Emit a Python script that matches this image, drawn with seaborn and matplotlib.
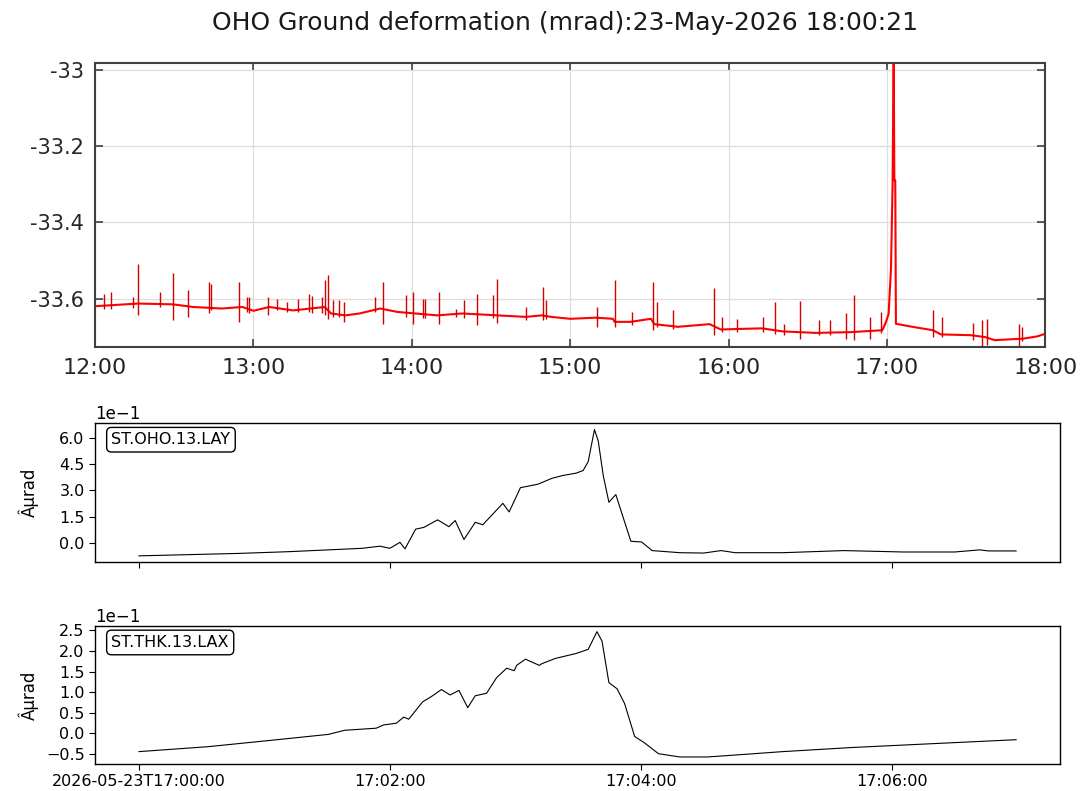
import numpy as np
import pandas as pd
import matplotlib
matplotlib.use("Agg")
import matplotlib.pyplot as plt
import seaborn as sns

# --- top panel: OHO tilt, hours after 12:00 ---
base_hours = [0.0, 0.27, 0.49, 0.62, 0.80, 0.93, 1.0, 1.10, 1.25, 1.36, 1.45, 1.49,
              1.58, 1.67, 1.80, 1.91, 2.02, 2.16, 2.32, 2.54, 2.72, 2.82, 2.88, 3.0,
              3.16, 3.27, 3.28, 3.38, 3.51, 3.53, 3.68, 3.88, 3.95, 4.21, 4.34, 4.55,
              4.77, 4.97, 4.99, 5.01, 5.025, 5.035, 5.042, 5.046, 5.052, 5.056, 5.16,
              5.29, 5.34, 5.53, 5.62, 5.68, 5.86, 5.95, 6.0]
base_mrad = [-33.620, -33.613, -33.615, -33.622, -33.626, -33.622, -33.632, -33.622,
             -33.631, -33.626, -33.622, -33.639, -33.644, -33.639, -33.626, -33.635,
             -33.639, -33.644, -33.639, -33.644, -33.648, -33.644, -33.648, -33.653,
             -33.650, -33.653, -33.661, -33.661, -33.653, -33.667, -33.674, -33.667,
             -33.681, -33.678, -33.686, -33.690, -33.688, -33.683, -33.665, -33.640,
             -33.520, -33.300, -32.950, -33.290, -33.290, -33.666, -33.674, -33.683,
             -33.694, -33.696, -33.701, -33.709, -33.705, -33.699, -33.692]

spike_hours = [0.055, 0.10, 0.24, 0.27, 0.41, 0.49, 0.59, 0.72, 0.73, 0.91, 0.96, 0.97,
               1.09, 1.15, 1.21, 1.28, 1.35, 1.37, 1.43, 1.45, 1.47, 1.50, 1.54, 1.57,
               1.77, 1.82, 1.96, 2.01, 2.07, 2.08, 2.17, 2.28, 2.33, 2.41, 2.51, 2.54,
               2.72, 2.83, 2.85, 3.17, 3.28, 3.39, 3.52, 3.55, 3.65, 3.91, 3.96, 4.05,
               4.22, 4.29, 4.35, 4.45, 4.57, 4.64, 4.74, 4.79, 4.89, 4.96, 5.29, 5.35,
               5.54, 5.60, 5.63, 5.83, 5.85, 5.995]
spike_top = [-33.587, -33.582, -33.596, -33.510, -33.582, -33.533, -33.578, -33.556,
             -33.561, -33.556, -33.596, -33.596, -33.596, -33.600, -33.609, -33.600,
             -33.587, -33.594, -33.596, -33.552, -33.539, -33.604, -33.604, -33.609,
             -33.597, -33.556, -33.591, -33.582, -33.600, -33.600, -33.582, -33.626,
             -33.604, -33.587, -33.591, -33.548, -33.622, -33.569, -33.604, -33.622,
             -33.552, -33.635, -33.556, -33.609, -33.629, -33.571, -33.648, -33.653,
             -33.648, -33.609, -33.666, -33.606, -33.657, -33.655, -33.639, -33.591,
             -33.648, -33.635, -33.631, -33.648, -33.664, -33.655, -33.653, -33.667,
             -33.674, -33.604]
spike_bottom = [-33.628, -33.628, -33.625, -33.644, -33.622, -33.655, -33.648, -33.639,
                -33.630, -33.661, -33.635, -33.639, -33.644, -33.631, -33.635, -33.635,
                -33.635, -33.639, -33.639, -33.644, -33.653, -33.648, -33.648, -33.661,
                -33.635, -33.666, -33.648, -33.667, -33.650, -33.650, -33.667, -33.648,
                -33.650, -33.670, -33.650, -33.664, -33.655, -33.655, -33.653, -33.674,
                -33.674, -33.668, -33.683, -33.675, -33.680, -33.696, -33.688, -33.688,
                -33.688, -33.692, -33.695, -33.705, -33.696, -33.696, -33.705, -33.709,
                -33.705, -33.690, -33.701, -33.700, -33.709, -33.731, -33.723, -33.731,
                -33.712, -33.692]

top_ticks = [-33.0, -33.2, -33.4, -33.6]
top_tick_labels = ["-33", "-33.2", "-33.4", "-33.6"]
hour_labels = ["12:00", "13:00", "14:00", "15:00", "16:00", "17:00", "18:00"]

# --- lower panels: minutes after 2026-05-23T17:00:00 ---
lay_min = [0.0, 0.8, 1.2, 1.507, 1.78, 1.92, 2.0, 2.08, 2.12, 2.205, 2.27, 2.38, 2.47,
           2.52, 2.59, 2.68, 2.74, 2.90, 2.95, 3.04, 3.18, 3.21, 3.29, 3.375, 3.485,
           3.54, 3.58, 3.63, 3.66, 3.70, 3.745, 3.80, 3.84, 3.92, 4.005, 4.09, 4.31,
           4.50, 4.64, 4.75, 5.13, 5.62, 6.09, 6.50, 6.70, 6.77, 6.99]
lay_val = [-0.73, -0.59, -0.49, -0.39, -0.30, -0.18, -0.30, 0.04, -0.33, 0.79, 0.89,
           1.32, 0.93, 1.28, 0.20, 1.18, 1.04, 2.26, 1.77, 3.15, 3.35, 3.44, 3.68, 3.84,
           3.98, 4.13, 4.63, 6.46, 5.81, 3.84, 2.32, 2.76, 1.87, 0.10, 0.06, -0.43,
           -0.55, -0.57, -0.43, -0.55, -0.55, -0.43, -0.51, -0.51, -0.39, -0.45, -0.45]

lax_min = [0.0, 0.55, 1.10, 1.51, 1.64, 1.89, 1.95, 2.05, 2.11, 2.15, 2.26, 2.33, 2.41,
           2.48, 2.55, 2.62, 2.68, 2.77, 2.85, 2.93, 2.99, 3.01, 3.08, 3.19, 3.21, 3.32,
           3.485, 3.58, 3.65, 3.69, 3.745, 3.81, 3.87, 3.95, 4.03, 4.14, 4.31, 4.53,
           4.72, 5.13, 5.68, 6.23, 6.99]
lax_val = [-0.45, -0.33, -0.16, -0.03, 0.07, 0.12, 0.20, 0.24, 0.39, 0.34, 0.76, 0.89,
           1.06, 0.93, 1.04, 0.62, 0.91, 0.97, 1.35, 1.58, 1.52, 1.65, 1.80, 1.65, 1.69,
           1.82, 1.94, 2.04, 2.47, 2.24, 1.23, 1.08, 0.72, -0.08, -0.24, -0.50, -0.58,
           -0.58, -0.54, -0.45, -0.35, -0.27, -0.16]

time_ticks = [0, 2, 4, 6]
time_labels = ["2026-05-23T17:00:00", "17:02:00", "17:04:00", "17:06:00"]

fig = plt.figure(figsize=(10.8, 7.91), dpi=100)
fig.patch.set_facecolor("white")

# ---------------- top panel ----------------
ax0 = fig.add_axes([0.088, 0.5613, 0.880, 0.359])
frame_col = "#404040"
sns.lineplot(x=base_hours, y=base_mrad, ax=ax0, color="red", lw=1.5,
             estimator=None, sort=False)
ax0.vlines(spike_hours, spike_bottom, spike_top, color="#d40000", lw=1.0)
ax0.set_xlim(0, 6)
ax0.set_ylim(-33.727, -32.982)
ax0.set_xticks(range(7), hour_labels)
ax0.set_yticks(top_ticks, top_tick_labels)
ax0.grid(True, color="#dddddd", lw=0.9)
ax0.set_axisbelow(True)
ax0.tick_params(direction="in", top=True, right=True, length=6, width=1.2,
                colors=frame_col, labelsize=15, labelcolor="#262626", pad=8)
ax0.tick_params(axis="x", labelsize=16)
for sp in ax0.spines.values():
    sp.set_color(frame_col)
    sp.set_linewidth(1.5)
fig.text(0.523, 0.971, "OHO Ground deformation (mrad):23-May-2026 18:00:21",
         ha="center", va="center", fontsize=18, color="#1a1a1a")


# ---------------- lower panels ----------------
def station_panel(rect, minutes, values, ylim, yticks, label, show_labels):
    ax = fig.add_axes(rect)
    sns.lineplot(x=minutes, y=[v * 0.1 for v in values], ax=ax, color="black",
                 lw=0.8, estimator=None, sort=False)
    ax.set_xlim(-0.35, 7.34)
    ax.set_ylim(ylim[0] * 0.1, ylim[1] * 0.1)
    ax.set_yticks([t * 0.1 for t in yticks])
    ax.ticklabel_format(axis="y", style="sci", scilimits=(-1, -1))
    ax.yaxis.get_offset_text().set_fontsize(12)
    if show_labels:
        ax.set_xticks(time_ticks, time_labels)
    else:
        ax.set_xticks(time_ticks, [])
    ax.tick_params(labelsize=11.5, length=4)
    ax.set_ylabel("Âµrad", fontsize=12)
    ax.yaxis.set_label_coords(-0.058, 0.5)
    ax.text(0.017, 0.88, label, transform=ax.transAxes, ha="left", va="center",
            fontsize=11.5,
            bbox=dict(boxstyle="round,pad=0.3", fc="white", ec="black", lw=1))
    for sp in ax.spines.values():
        sp.set_linewidth(1.0)
    return ax


station_panel([0.088, 0.2895, 0.8935, 0.1757], lay_min, lay_val, (-1.08, 6.83),
              [0.0, 1.5, 3.0, 4.5, 6.0], "ST.OHO.13.LAY", False)
station_panel([0.088, 0.0342, 0.8935, 0.1745], lax_min, lax_val, (-0.75, 2.61),
              [-0.5, 0.0, 0.5, 1.0, 1.5, 2.0, 2.5], "ST.THK.13.LAX", True)

fig.savefig("out.png", dpi=100)
